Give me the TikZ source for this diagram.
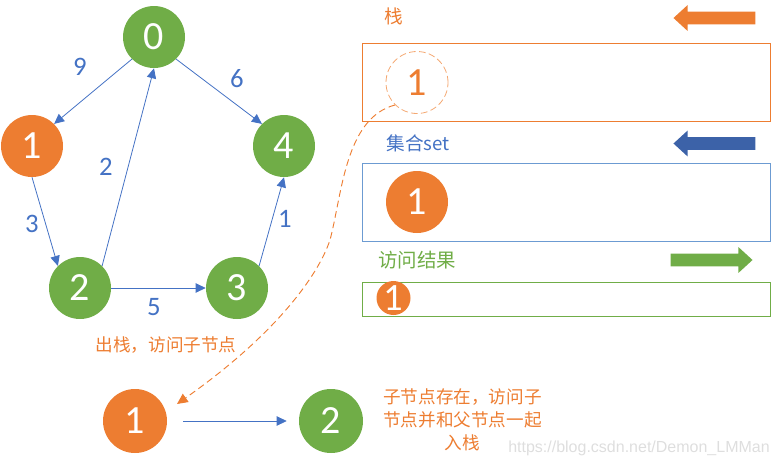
\documentclass[tikz,border=0pt]{standalone}
\usepackage{fontspec}
\setmainfont{Carlito}
\newfontfamily\cjk{Noto Sans CJK SC}
\newfontfamily\wm{Liberation Sans}
\usetikzlibrary{arrows.meta,shapes.arrows}
\definecolor{korange}{HTML}{ED7D31}
\definecolor{kgreen}{HTML}{70AD47}
\definecolor{kblue}{HTML}{4472C4}
\definecolor{kdark}{HTML}{3C62A8}
\definecolor{kbox}{HTML}{6C9BD2}
\definecolor{klight}{HTML}{F4A872}
\tikzset{
  x=0.75pt,y=-0.75pt,
  vertex/.style={circle,minimum size=46.5pt,inner sep=0pt,text=white,font=\fontsize{30}{32}\selectfont},
  green vertex/.style={vertex,fill=kgreen},
  orange vertex/.style={vertex,fill=korange},
  edge/.style={draw=kblue,line width=0.6pt,-{Triangle[length=7.5pt,width=7pt]}},
  weight/.style={text=kblue,font=\fontsize{20}{22}\selectfont,inner sep=0pt},
  panel/.style={draw=#1,line width=0.7pt,fill=none},
  caption/.style={text=#1,font=\cjk\fontsize{13.2}{17.3}\selectfont,inner sep=0pt,align=center},
  blockarrow/.style={single arrow,fill=#1,draw=none,inner xsep=0pt,inner ysep=0pt,minimum height=61.5pt,single arrow head extend=4.8pt,single arrow head indent=0pt,single arrow tip angle=85},
}
\begin{document}
\begin{tikzpicture}
\useasboundingbox (0,0) rectangle (772,465);
% graph
\node[green vertex] (n0) at (154,37) {0};
\node[orange vertex] (n1) at (32,146) {1};
\node[green vertex] (n2) at (80,288) {2};
\node[green vertex] (n3) at (237,288) {3};
\node[green vertex] (n4) at (284,146) {4};
\draw[edge] (n0.south west) -- (n1.north east);
\draw[edge] (n0.south east) -- (n4.north west);
\draw[edge] (n1.south) -- (n2.north west);
\draw[edge] (n2.north east) -- (n0.south);
\draw[edge] (n2) -- (n3);
\draw[edge] (n3.north east) -- (n4.south);
\node[weight] (w9) at (80,67) {9};
\node[weight] (w6) at (237,79) {6};
\node[weight] (w2) at (106,167) {2};
\node[weight] (w3) at (32,224) {3};
\node[weight] (w1) at (285,219) {1};
\node[weight] (w5) at (154,307) {5};
% panels
\node[panel=korange,minimum width=306.5pt,minimum height=59pt,inner sep=0pt] (stack) at (566.5,82.5) {};
\node[panel=kbox,minimum width=306.5pt,minimum height=58.5pt,inner sep=0pt] (setbox) at (566.5,202) {};
\node[panel=kgreen,minimum width=306.5pt,minimum height=25.5pt,inner sep=0pt] (result) at (566.5,299) {};
\node[caption=korange,font=\cjk\fontsize{14}{19}\selectfont] (lstack) at (394,16) {栈};
\node[caption=kblue,font=\cjk\fontsize{14}{19}\selectfont] (lset) at (418,143) {集合set};
\node[caption=kgreen,font=\cjk\fontsize{14.6}{19}\selectfont] (lresult) at (417,260) {访问结果};
\node[blockarrow=korange,shape border rotate=180] (astack) at (718,18) {\rule{0pt}{9.3pt}};
\node[blockarrow=kdark,shape border rotate=180] (aset) at (718,143.5) {\rule{0pt}{9.3pt}};
\node[blockarrow=kgreen] (aresult) at (708,260) {\rule{0pt}{9.3pt}};
% circles in the panels
\node[circle,draw=klight,dash pattern=on 5pt off 2.5pt,line width=0.6pt,minimum size=46.5pt,inner sep=0pt,text=korange,font=\fontsize{30}{32}\selectfont] (ghost) at (417,82.5) {1};
\node[orange vertex] (sone) at (417,202) {1};
\node[orange vertex,minimum size=25.5pt,font=\fontsize{29}{30}\selectfont] (rone) at (393.5,298) {1};
% lower row
\node[orange vertex,minimum size=48pt] (pop) at (135,421) {1};
\node[green vertex,minimum size=48pt] (child) at (331,421) {2};
\draw[edge,shorten <=12pt,shorten >=9pt] (pop) -- (child);
\coordinate (cstart) at (395,105);
\coordinate (cmid) at (330,240);
\coordinate (cend) at (177,404);
\draw[draw=korange,line width=0.7pt,dash pattern=on 5pt off 3pt,-{Triangle[length=8pt,width=7.5pt]}] (cstart) .. controls (345,118) and (342,195) .. (cmid) .. controls (318,276) and (275,335) .. (cend);
\node[caption=korange] (lpop) at (166,345) {出栈，访问子节点};
\node[caption=korange,anchor=center] (lchild) at (462.5,420) {子节点存在，访问子\\节点并和父节点一起\\入栈};
\node[text=black!13,font=\wm\fontsize{12}{13}\selectfont,inner sep=0pt,anchor=east] (mark) at (770,448) {https://blog.csdn.net/Demon\_LMMan};
\end{tikzpicture}
\end{document}
